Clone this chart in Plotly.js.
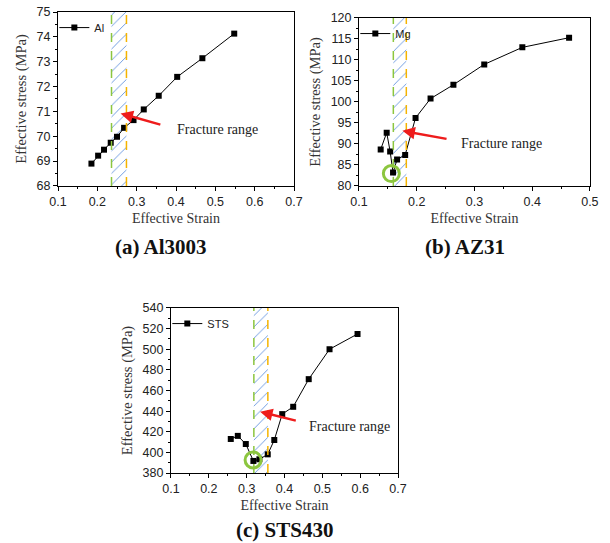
<!DOCTYPE html>
<html>
<head>
<meta charset="utf-8">
<script src="https://cdn.plot.ly/plotly-3.0.1.min.js"></script>
<style>html,body{margin:0;padding:0;background:#fff;}#chart{width:610px;height:543px;}</style>
</head>
<body>
<div id="chart"></div>
<script>
// ---- Data ----
const alStrain = [0.185, 0.202, 0.217, 0.234, 0.250, 0.268, 0.292, 0.318, 0.356, 0.403, 0.467, 0.548];
const alStress = [68.90, 69.22, 69.46, 69.74, 69.98, 70.34, 70.65, 71.08, 71.63, 72.39, 73.14, 74.13];

const mgStrain = [0.1376, 0.148, 0.154, 0.159, 0.166, 0.180, 0.198, 0.224, 0.2636, 0.317, 0.383, 0.464];
const mgStress = [88.7, 92.7, 88.2, 83.2, 86.3, 87.4, 96.2, 100.8, 104.1, 108.95, 113.0, 115.3];

const stsStrain = [0.258, 0.2766, 0.2977, 0.3178, 0.3336, 0.3557, 0.373, 0.394, 0.423, 0.464, 0.519, 0.593];
const stsStress = [413.0, 416.0, 408.1, 391.7, 393.3, 398.1, 412.0, 437.1, 444.2, 471.0, 500.0, 514.8];

// fracture range (strain) per material: [start, end]
const alFracture = [0.236, 0.274];
const mgFracture = [0.1595, 0.182];
const stsFracture = [0.319, 0.356];

// highlighted minimum points (strain, stress)
const mgHighlight = [0.1561, 82.95];
const stsHighlight = [0.317, 392.6];

const seriesNames = ['Al', 'Mg', 'STS'];
const panelLabels = ['(a) Al3003', '(b) AZ31', '(c) STS430'];

// axis ranges
const alXRange = [0.1, 0.7], alYRange = [68, 75];
const mgXRange = [0.1, 0.5], mgYRange = [80, 120];
const stsXRange = [0.1, 0.7], stsYRange = [380, 540];

// ---- Styles ----
const serif = 'Liberation Serif, Times New Roman, serif';
const sans = 'Liberation Sans, Arial, sans-serif';
const green = '#8cc63f';
const orange = '#f5b400';
const red = '#ee1c1c';

function series(x, y, name, xa, ya, leg) {
  return {
    x: x, y: y, name: name, type: 'scatter', mode: 'lines+markers',
    xaxis: xa, yaxis: ya, legend: leg,
    line: {color: '#000', width: 1},
    marker: {symbol: 'square', size: 6, color: '#000'}
  };
}
function hatch(fr, yr, xa, ya) {
  return {
    x: [fr[0], fr[1], fr[1], fr[0], fr[0]],
    y: [yr[0], yr[0], yr[1], yr[1], yr[0]],
    xaxis: xa, yaxis: ya, type: 'scatter', mode: 'lines',
    fill: 'toself', fillcolor: 'rgba(0,0,0,0)',
    fillpattern: {shape: '/', fgcolor: 'rgba(60,120,215,0.9)', bgcolor: 'rgba(0,0,0,0)', size: 8, solidity: 0.1},
    line: {width: 0}, showlegend: false, hoverinfo: 'skip'
  };
}

const traces = [
  hatch(alFracture, alYRange, 'x', 'y'),
  hatch(mgFracture, mgYRange, 'x2', 'y2'),
  hatch(stsFracture, stsYRange, 'x3', 'y3'),
  series(alStrain, alStress, seriesNames[0], 'x', 'y', 'legend'),
  series(mgStrain, mgStress, seriesNames[1], 'x2', 'y2', 'legend2'),
  series(stsStrain, stsStress, seriesNames[2], 'x3', 'y3', 'legend3')
];

function xax(range, domain, anchor) {
  return {
    range: range, domain: domain, anchor: anchor, dtick: 0.1, tick0: 0.1,
    showgrid: false, zeroline: false, showline: true, mirror: true,
    linecolor: '#000', linewidth: 1, ticks: 'outside', ticklen: 4, tickcolor: '#000',
    minor: {ticks: 'outside', ticklen: 2, tickcolor: '#000', dtick: 0.05},
    tickfont: {family: sans, size: 12.5, color: '#222'},
    title: {text: 'Effective Strain', font: {family: serif, size: 14, color: '#333'}, standoff: 5}
  };
}
function yax(range, domain, anchor, dt) {
  return {
    range: range, domain: domain, anchor: anchor, dtick: dt,
    showgrid: false, zeroline: false, showline: true, mirror: true,
    linecolor: '#000', linewidth: 1, ticks: 'outside', ticklen: 4, tickcolor: '#000',
    minor: {ticks: 'outside', ticklen: 2, tickcolor: '#000', dtick: dt / 2},
    tickfont: {family: sans, size: 12.5, color: '#222'},
    title: {text: 'Effective stress (MPa)', font: {family: serif, size: 14.5, color: '#333'}, standoff: 6}
  };
}

const dA = {x: [0.0951, 0.482], y: [0.6575, 0.9779]};
const dB = {x: [0.5885, 0.967], y: [0.6575, 0.9669]};
const dC = {x: [0.2803, 0.6525], y: [0.1289, 0.4328]};

function vline(xv, xa, ya, color) {
  return {type: 'line', xref: xa, yref: ya + ' domain', x0: xv, x1: xv, y0: 0, y1: 1,
          line: {color: color, width: 1.5, dash: 'dash'}};
}
function circ(pt, xa, ya) {
  return {type: 'circle', xref: xa, yref: ya, xsizemode: 'pixel', ysizemode: 'pixel',
          xanchor: pt[0], yanchor: pt[1], x0: -8, x1: 8, y0: -8, y1: 8,
          line: {color: green, width: 3}};
}
function leg(d) {
  return {x: d.x[0] - 0.006, y: d.y[1] - 0.002, xref: 'paper', yref: 'paper', xanchor: 'left', yanchor: 'top',
          bgcolor: 'rgba(0,0,0,0)', borderwidth: 0, font: {family: sans, size: 11, color: '#222'},
          itemwidth: 30, tracegroupgap: 0};
}
function arrow(tip, tail, xa, ya) {
  return {x: tip[0], y: tip[1], xref: xa, yref: ya, ax: tail[0], ay: tail[1], axref: xa, ayref: ya,
          text: '', showarrow: true, arrowhead: 2, arrowsize: 1, arrowwidth: 2.5, arrowcolor: red};
}
function ftext(pos, xa, ya) {
  return {x: pos[0], y: pos[1], xref: xa, yref: ya, text: 'Fracture range', showarrow: false,
          xanchor: 'left', yanchor: 'middle', font: {family: serif, size: 14, color: '#222'}};
}
function label(t, x, y) {
  return {x: x, y: y, xref: 'paper', yref: 'paper', text: '<b>' + t + '</b>', showarrow: false,
          xanchor: 'center', yanchor: 'middle', font: {family: serif, size: 21, color: '#111'}};
}

const layout = {
  width: 610, height: 543, margin: {l: 0, r: 0, t: 0, b: 0},
  paper_bgcolor: '#fff', plot_bgcolor: '#fff', showlegend: true,
  xaxis: xax(alXRange, dA.x, 'y'), yaxis: yax(alYRange, dA.y, 'x', 1),
  xaxis2: xax(mgXRange, dB.x, 'y2'), yaxis2: yax(mgYRange, dB.y, 'x2', 5),
  xaxis3: xax(stsXRange, dC.x, 'y3'), yaxis3: yax(stsYRange, dC.y, 'x3', 20),
  legend: leg(dA), legend2: leg(dB), legend3: leg(dC),
  shapes: [
    vline(alFracture[0], 'x', 'y', green), vline(alFracture[1], 'x', 'y', orange),
    vline(mgFracture[0], 'x2', 'y2', green), vline(mgFracture[1], 'x2', 'y2', orange),
    vline(stsFracture[0], 'x3', 'y3', green), vline(stsFracture[1], 'x3', 'y3', orange),
    circ(mgHighlight, 'x2', 'y2'), circ(stsHighlight, 'x3', 'y3')
  ],
  annotations: [
    arrow([0.259, 70.92], [0.364, 70.45], 'x', 'y'), ftext([0.397, 70.29], 'x', 'y'),
    arrow([0.1752, 93.13], [0.2543, 91.15], 'x2', 'y2'), ftext([0.2733, 90.0], 'x2', 'y2'),
    arrow([0.3354, 439.4], [0.4338, 430.4], 'x3', 'y3'), ftext([0.460, 425.5], 'x3', 'y3'),
    label(panelLabels[0], 161 / 610, 1 - 247 / 543),
    label(panelLabels[1], 465 / 610, 1 - 247 / 543),
    label(panelLabels[2], 284 / 610, 1 - 530 / 543)
  ]
};

Plotly.newPlot('chart', traces, layout, {displayModeBar: false, staticPlot: true});
</script>
</body>
</html>
